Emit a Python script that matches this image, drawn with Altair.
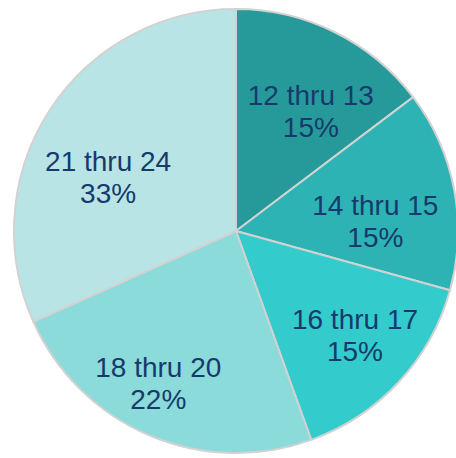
import altair as alt
import pandas as pd

categories = ["12 thru 13", "14 thru 15", "16 thru 17", "18 thru 20", "21 thru 24"]
values = [14.7, 14.6, 15.2, 23.8, 31.7]
pct_labels = ["15%", "15%", "15%", "22%", "33%"]
colors = ["#269A9A", "#2DB3B4", "#33CBCB", "#8ADBDA", "#B9E4E5"]

df = pd.DataFrame({
    "category": categories,
    "value": values,
    "label": [f"{c}\n{p}" for c, p in zip(categories, pct_labels)],
    "order": list(range(len(categories))),
})

CX, CY, R = 236, 231, 222

# label nudges (layout only), keyed by category
nudges = {
    "12 thru 13": (8, 0),
    "14 thru 15": (-8, 4),
    "16 thru 17": (9, -12),
    "18 thru 20": (-19, 0),
    "21 thru 24": (-2, 14),
}

color_scale = alt.Scale(domain=categories, range=colors)

shadow_df = pd.DataFrame({"v": [1]})
shadow1 = alt.Chart(shadow_df).mark_arc(outerRadius=R + 1, fill="#000000", opacity=0.12).encode(
    theta=alt.Theta("v:Q"), x=alt.value(CX + 3), y=alt.value(CY + 4)
)
shadow2 = alt.Chart(shadow_df).mark_arc(outerRadius=R, fill="#000000", opacity=0.2).encode(
    theta=alt.Theta("v:Q"), x=alt.value(CX + 2), y=alt.value(CY + 2)
)

base = alt.Chart(df).encode(
    theta=alt.Theta("value:Q", stack=True),
    order=alt.Order("order:Q"),
)

pie = base.mark_arc(outerRadius=R, stroke="#D2D2D2", strokeWidth=2).encode(
    color=alt.Color("category:N", scale=color_scale, legend=None),
    x=alt.value(CX), y=alt.value(CY),
)

layers = [shadow1, shadow2, pie]
for cat in categories:
    dx, dy = nudges[cat]
    layers.append(
        base.mark_text(
            radius=150, fontSize=28, font="Liberation Sans", color="#163A6B",
            lineBreak="\n", lineHeight=32, align="center", baseline="middle",
            dx=dx, dy=dy,
        ).encode(
            text="label:N",
            x=alt.value(CX), y=alt.value(CY),
            opacity=alt.condition(alt.datum.category == cat, alt.value(1), alt.value(0)),
        )
    )

chart = alt.layer(*layers).properties(
    width=456, height=458, padding=0, autosize="none", background="white"
).configure_view(stroke=None)

chart.save("out.html", embed_options={"renderer": "svg", "actions": False})
